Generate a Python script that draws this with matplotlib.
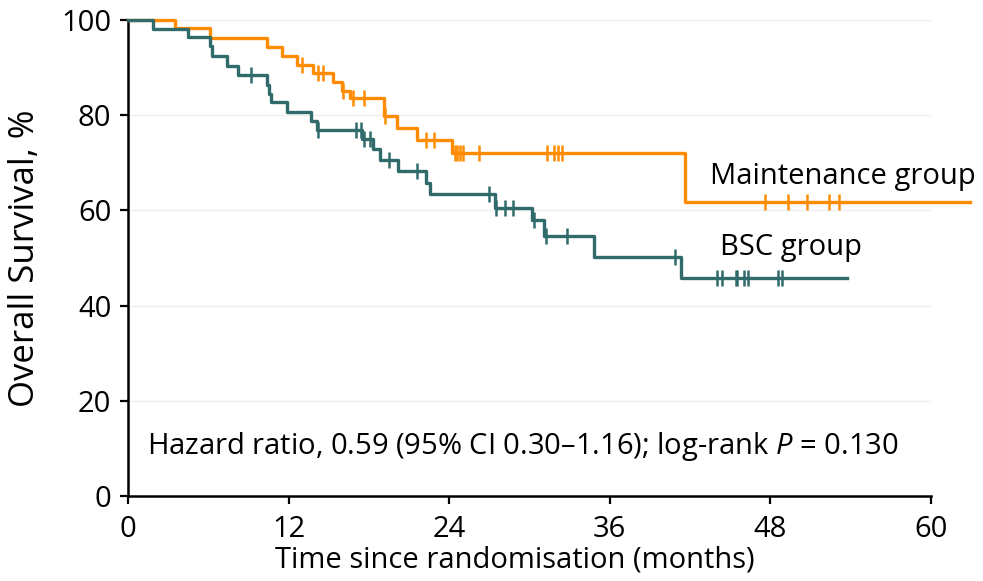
import numpy as np
import matplotlib
matplotlib.use("Agg")
import matplotlib.pyplot as plt

# ---- data ----
maint_times = [0, 3.5, 6.1, 10.4, 11.5, 12.6, 13.8, 15.3, 16.0, 16.6, 19.1, 20.1, 21.6, 24.2, 41.6]
maint_surv = [100, 98.3, 96.3, 94.4, 92.5, 90.6, 88.8, 86.9, 85.0, 83.7, 79.9, 77.3, 74.8, 72.1, 61.8]
maint_censor = [13.0, 14.2, 14.6, 16.1, 16.8, 17.6, 19.2, 22.3, 22.9, 24.4, 24.6, 24.8, 25.0,
                26.2, 31.3, 31.8, 32.1, 32.4, 47.6, 49.3, 50.7, 52.4, 53.1]
maint_end = 62.9

bsc_times = [0, 1.9, 4.5, 6.1, 6.3, 7.4, 8.2, 10.4, 10.5, 10.7, 11.9, 13.7, 14.1, 17.5, 18.3,
             18.8, 20.2, 22.3, 22.6, 27.4, 30.2, 31.1, 34.8, 41.3]
bsc_surv = [100, 98.2, 96.4, 94.5, 92.4, 90.4, 88.4, 86.4, 84.5, 82.7, 80.7, 78.7, 76.8, 74.9, 72.8,
            70.5, 68.3, 65.8, 63.4, 60.6, 58.0, 54.6, 50.3, 45.8]
bsc_censor = [9.2, 14.2, 17.0, 17.4, 17.6, 18.1, 19.5, 21.6, 27.0, 27.5, 28.2, 28.8, 30.3, 31.2,
              32.8, 40.9, 44.0, 44.4, 45.4, 45.5, 46.0, 46.3, 48.6, 48.9]
bsc_end = 53.7

x_ticks = [0, 12, 24, 36, 48, 60]
y_ticks = [0, 20, 40, 60, 80, 100]

ORANGE = "#FF8C00"
TEAL = "#306A6A"

plt.rcParams['font.family'] = ['Open Sans', 'DejaVu Sans']
plt.rcParams['mathtext.fontset'] = 'custom'
plt.rcParams['mathtext.rm'] = 'Open Sans'
plt.rcParams['mathtext.it'] = 'Open Sans:italic'

FS = 21
FS_Y = 25

fig = plt.figure(figsize=(9.83, 5.81), dpi=100)
ax = fig.add_axes([128/983, 1-496/581, (931-128)/983, (496-20)/581])


def step_curve(times, surv, end):
    x = list(times) + [end]
    y = list(surv) + [surv[-1]]
    return x, y


def level_at(times, surv, t):
    idx = np.searchsorted(times, t, side='right') - 1
    return np.asarray(surv)[idx]


for times, surv, cens, end, col in [
        (maint_times, maint_surv, maint_censor, maint_end, ORANGE),
        (bsc_times, bsc_surv, bsc_censor, bsc_end, TEAL)]:
    x, y = step_curve(times, surv, end)
    ax.step(x, y, where='post', color=col, lw=2.4, clip_on=False, zorder=3)
    cy = level_at(times, surv, np.array(cens))
    ax.plot(cens, cy, ls='none', marker='|', ms=11, mew=1.8, color=col, clip_on=False, zorder=4)

ax.set_xlim(0, 60)
ax.set_ylim(0, 100)
ax.set_xticks(x_ticks)
ax.set_yticks(y_ticks)
ax.tick_params(axis='both', labelsize=FS, length=6, width=1.6, color='black', direction='out')
ax.tick_params(axis='x', pad=8)
ax.tick_params(axis='y', pad=6)

for s in ['top', 'right']:
    ax.spines[s].set_visible(False)
for s in ['left', 'bottom']:
    ax.spines[s].set_linewidth(1.8)

for yv in y_ticks[1:]:
    ax.axhline(yv, color='#eeeeee', lw=1, zorder=0)

ax.set_ylabel('Overall Survival, %', fontsize=FS_Y, va='center')
ax.set_xlabel('Time since randomisation (months)', fontsize=FS, va='center')
ax.xaxis.set_label_coords(0.482, -0.135)
ax.yaxis.set_label_coords(-(128 - 25) / 803, 0.5)

ax.text(43.5, 67.2, 'Maintenance group', fontsize=FS, va='center', ha='left')
ax.text(44.2, 52.2, 'BSC group', fontsize=FS, va='center', ha='left')
ax.text(1.4, 10.3, 'Hazard ratio, 0.59 (95% CI 0.30\u20131.16); log-rank $P$ = 0.130',
        fontsize=FS, va='center', ha='left')

fig.savefig('out.png', dpi=100)
